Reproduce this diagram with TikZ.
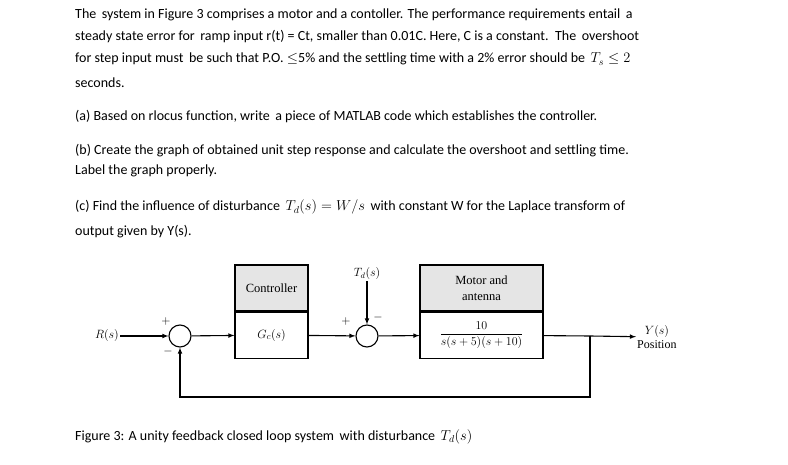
\documentclass[tikz,border=0pt]{standalone}
\usepackage{amsmath}
\usepackage{fontspec}
\setmainfont{Carlito}
\newfontfamily\blockfont{Liberation Serif}
\usetikzlibrary{positioning}
\tikzset{
  para/.style={anchor=base west, inner sep=0pt, font=\fontsize{14}{17}\selectfont},
  blk/.style={draw, line width=1.1pt, minimum width=73pt, minimum height=46pt, align=center, font=\blockfont\fontsize{12.5}{16}\selectfont},
  sumc/.style={draw, line width=1.1pt, circle, minimum size=22pt, inner sep=0pt},
  sig/.style={font=\blockfont\fontsize{12}{14}\selectfont, inner sep=1pt},
  flow/.style={line width=1.1pt, -latex}
}
\begin{document}
\begin{tikzpicture}[x=1pt,y=-1pt]
		\useasboundingbox (0,0) rectangle (788,465);
		% question text
		\node[para] (l1) at (75,19) {The\, system in Figure 3 comprises a motor and a contoller. The performance requirements entail\, a};
		\node[para] (l2) at (75,41) {steady state error for\, ramp input r(t) = Ct, smaller than 0.01C. Here, C is a constant.\, The\, overshoot};
		\node[para] (l3) at (75,63) {for step input must\, be such that P.O. $\leq$5\% and the settling time with a 2\% error should be\, $T_s \leq 2$};
		\node[para] (l4) at (75,88) {seconds.};
		\node[para] (qa) at (75,121) {(a) Based on rlocus function, write\, a piece of MATLAB code which establishes the controller.};
		\node[para] (qb1) at (75,155) {(b) Create the graph of obtained unit step response and calculate the overshoot and settling time.};
		\node[para] (qb2) at (75,175) {Label the graph properly.};
		\node[para] (qc1) at (75,211) {(c) Find the influence of disturbance\, $T_d(s) = W/s$\, with constant W for the Laplace transform of};
		\node[para] (qc2) at (75,236) {output given by Y(s).};
		% block diagram
		\node[blk, fill=gray!20] (ctrlT) at (271.5,288) {Controller};
		\node[blk, below=0pt of ctrlT] (ctrl) {$G_c(s)$};
		\node[blk, fill=gray!20, minimum width=123pt] (motT) at (481.5,288) {Motor and\\antenna};
		\node[blk, below=0pt of motT, minimum width=123pt] (mot) {$\dfrac{10}{s(s+5)(s+10)}$};
		\node[sumc] (s1) at (180,336) {};
		\node[sumc] (s2) at (367,336) {};
		\node[sig, anchor=east] (r) at (120,336) {$R(s)$};
		\node[sig] (td) at (367,274) {$T_d(s)$};
		\coordinate (br) at (590,336);
		\node[sig, align=center, anchor=west] (y) at (636,337) {$Y(s)$\\Position};
		\coordinate (fb) at (590,397);
		\draw[flow] (r) -- (s1);
		\draw[flow] (s1) -- (ctrl);
		\draw[flow] (ctrl) -- (s2);
		\draw[flow] (s2) -- (mot);
		\draw[line width=1.1pt] (mot) -- (br);
		\draw[flow] (br) -- (y);
		\draw[flow] (td) -- (s2);
		\draw[flow] (br) -- (fb) -| (s1);
		\node[sig] (p1) at (166,322) {$+$};
		\node[sig] (m1) at (168,352) {$-$};
		\node[sig] (p2) at (346,322) {$+$};
		\node[sig] (m2) at (378,318) {$-$};
		% caption
		\node[para] (cap) at (75,440) {Figure 3: A unity feedback closed loop system\, with disturbance\, $T_d(s)$};
\end{tikzpicture}
\end{document}
